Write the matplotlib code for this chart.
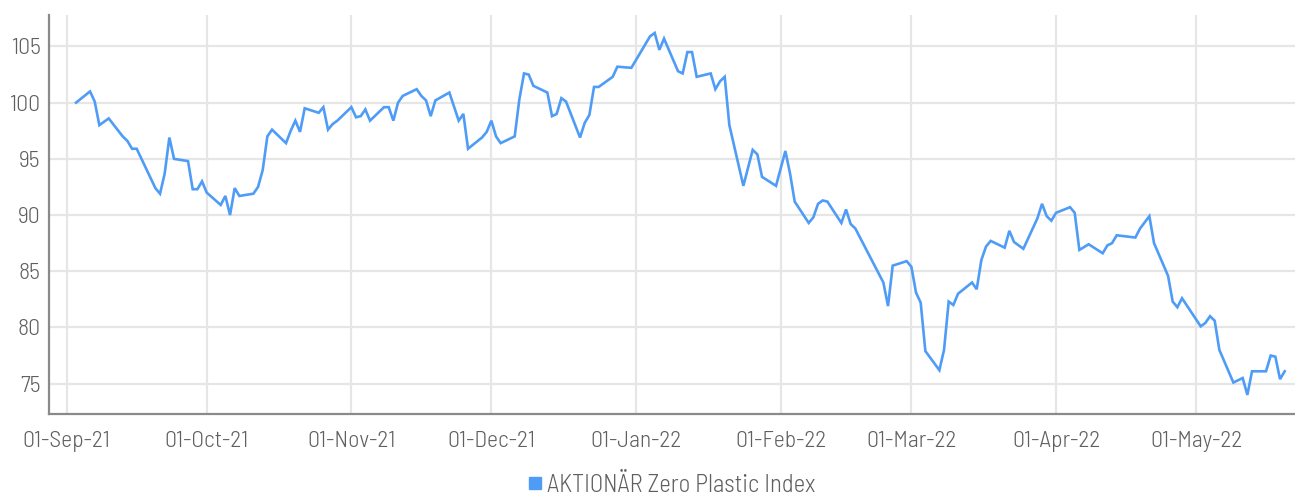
import matplotlib
matplotlib.use("Agg")
import matplotlib.pyplot as plt
import matplotlib.dates as mdates
from matplotlib import font_manager as fm
from matplotlib.lines import Line2D
import pandas as pd

# ---- data ----
dates = [
    "2021-09-03", "2021-09-06", "2021-09-07", "2021-09-08", "2021-09-10", "2021-09-13",
    "2021-09-14", "2021-09-15", "2021-09-16", "2021-09-20", "2021-09-21", "2021-09-22",
    "2021-09-23", "2021-09-24", "2021-09-27", "2021-09-28", "2021-09-29", "2021-09-30",
    "2021-10-01", "2021-10-04", "2021-10-05", "2021-10-06", "2021-10-07", "2021-10-08",
    "2021-10-11", "2021-10-12", "2021-10-13", "2021-10-14", "2021-10-15", "2021-10-18",
    "2021-10-19", "2021-10-20", "2021-10-21", "2021-10-22", "2021-10-25", "2021-10-26",
    "2021-10-27", "2021-10-28", "2021-10-29", "2021-11-01", "2021-11-02", "2021-11-03",
    "2021-11-04", "2021-11-05", "2021-11-08", "2021-11-09", "2021-11-10", "2021-11-11",
    "2021-11-12", "2021-11-15", "2021-11-16", "2021-11-17", "2021-11-18", "2021-11-19",
    "2021-11-22", "2021-11-24", "2021-11-25", "2021-11-26", "2021-11-29", "2021-11-30",
    "2021-12-01", "2021-12-02", "2021-12-03", "2021-12-06", "2021-12-07", "2021-12-08",
    "2021-12-09", "2021-12-10", "2021-12-13", "2021-12-14", "2021-12-15", "2021-12-16",
    "2021-12-17", "2021-12-20", "2021-12-21", "2021-12-22", "2021-12-23", "2021-12-24",
    "2021-12-27", "2021-12-28", "2021-12-31", "2022-01-03", "2022-01-04", "2022-01-05",
    "2022-01-06", "2022-01-07", "2022-01-10", "2022-01-11", "2022-01-12", "2022-01-13",
    "2022-01-14", "2022-01-17", "2022-01-18", "2022-01-19", "2022-01-20", "2022-01-21",
    "2022-01-24", "2022-01-26", "2022-01-27", "2022-01-28", "2022-01-31", "2022-02-02",
    "2022-02-03", "2022-02-04", "2022-02-07", "2022-02-08", "2022-02-09", "2022-02-10",
    "2022-02-11", "2022-02-14", "2022-02-15", "2022-02-16", "2022-02-17", "2022-02-23",
    "2022-02-24", "2022-02-25", "2022-02-28", "2022-03-01", "2022-03-02", "2022-03-03",
    "2022-03-04", "2022-03-07", "2022-03-08", "2022-03-09", "2022-03-10", "2022-03-11",
    "2022-03-14", "2022-03-15", "2022-03-16", "2022-03-17", "2022-03-18", "2022-03-21",
    "2022-03-22", "2022-03-23", "2022-03-25", "2022-03-28", "2022-03-29", "2022-03-30",
    "2022-03-31", "2022-04-01", "2022-04-04", "2022-04-05", "2022-04-06", "2022-04-08",
    "2022-04-11", "2022-04-12", "2022-04-13", "2022-04-14", "2022-04-18", "2022-04-19",
    "2022-04-21", "2022-04-22", "2022-04-25", "2022-04-26", "2022-04-27", "2022-04-28",
    "2022-05-02", "2022-05-03", "2022-05-04", "2022-05-05", "2022-05-06", "2022-05-09",
    "2022-05-11", "2022-05-12", "2022-05-13", "2022-05-16", "2022-05-17", "2022-05-18",
    "2022-05-19", "2022-05-20",
]
index_values = [
    100.0, 101.0, 100.1, 98.0, 98.6, 97.0,
    96.6, 95.9, 95.9, 92.4, 91.9, 93.7,
    96.9, 95.0, 94.8, 92.3, 92.3, 93.0,
    92.0, 90.9, 91.7, 90.0, 92.4, 91.7,
    91.9, 92.5, 94.0, 97.0, 97.6, 96.4,
    97.5, 98.4, 97.4, 99.5, 99.1, 99.6,
    97.6, 98.1, 98.4, 99.6, 98.7, 98.8,
    99.4, 98.4, 99.6, 99.6, 98.4, 100.0,
    100.6, 101.2, 100.6, 100.2, 98.8, 100.2,
    100.9, 98.4, 99.0, 95.9, 96.9, 97.4,
    98.4, 97.0, 96.4, 97.0, 100.3, 102.6,
    102.5, 101.5, 100.9, 98.8, 99.0, 100.4,
    100.1, 96.9, 98.2, 98.9, 101.4, 101.4,
    102.3, 103.2, 103.1, 105.2, 105.9, 106.2,
    104.7, 105.7, 102.8, 102.6, 104.5, 104.5,
    102.3, 102.6, 101.2, 101.9, 102.3, 98.0,
    92.6, 95.8, 95.4, 93.4, 92.6, 95.7,
    93.7, 91.2, 89.3, 89.8, 91.0, 91.3,
    91.2, 89.3, 90.5, 89.2, 88.8, 84.0,
    81.9, 85.5, 85.9, 85.4, 83.1, 82.2,
    77.9, 76.2, 78.0, 82.3, 82.0, 83.0,
    84.0, 83.4, 86.0, 87.2, 87.7, 87.1,
    88.6, 87.6, 87.0, 89.7, 91.0, 89.9,
    89.5, 90.2, 90.7, 90.2, 86.9, 87.4,
    86.6, 87.3, 87.5, 88.2, 88.0, 88.8,
    89.9, 87.5, 84.6, 82.3, 81.8, 82.6,
    80.1, 80.4, 81.0, 80.6, 78.0, 75.1,
    75.5, 74.0, 76.1, 76.1, 77.5, 77.4,
    75.4, 76.1,
]
series_name = "AKTIONÄR Zero Plastic Index"
y_ticks = [75, 80, 85, 90, 95, 100, 105]

# ---- style ----
text_color = "#5f5f5f"
line_color = "#4f9cf7"
grid_color = "#e6e6e6"
spine_color = "#8a8a8a"

# pick the narrowest available family resembling the reference's condensed face
available = {f.name for f in fm.fontManager.ttflist}
condensed_dejavu = any(f.name == "DejaVu Sans" and f.stretch in ("condensed", "semi-condensed")
                       for f in fm.fontManager.ttflist)
candidates = ["Barlow Semi Condensed", "Barlow", "Roboto Condensed", "Liberation Sans Narrow",
              "Open Sans Condensed", "DejaVu Sans Condensed", "Roboto"]
chosen = None
for c in candidates:
    if c in available:
        chosen = c
        break
stretch = "normal"
font_size = 17.0
legend_size = 17.8
if chosen is None:
    chosen = "DejaVu Sans"
    if condensed_dejavu:
        stretch = "condensed"
if chosen == "Roboto":
    font_size = 16.5
    legend_size = 16.5
plt.rcParams["font.family"] = [chosen, "DejaVu Sans"]
plt.rcParams["font.stretch"] = stretch
light_weights = {f.weight for f in fm.fontManager.ttflist if f.name == chosen}
plt.rcParams["font.weight"] = 300 if any(w in (300, "light") for w in light_weights) else "normal"

x = pd.to_datetime(dates)

fig = plt.figure(figsize=(12.95, 4.95), dpi=100)
ax = fig.add_axes([49 / 1295, 1 - 414 / 495, 1 - 49 / 1295, (414 - 15) / 495])

ax.plot(x, index_values, color=line_color, linewidth=1.9, solid_joinstyle="miter", zorder=3)

ax.set_xlim(pd.Timestamp("2021-08-28 05:00"), pd.Timestamp("2022-05-22 05:00"))
ax.set_ylim(72.3, 107.8)
ax.set_yticks(y_ticks)
ax.xaxis.set_major_locator(mdates.MonthLocator(bymonthday=1))
ax.xaxis.set_major_formatter(mdates.DateFormatter("%d-%b-%y"))

ax.grid(True, color=grid_color, linewidth=1.6, zorder=0)
ax.set_axisbelow(True)
for s in ("top", "right"):
    ax.spines[s].set_visible(False)
for s in ("left", "bottom"):
    ax.spines[s].set_color(spine_color)
    ax.spines[s].set_linewidth(1.6)
ax.tick_params(axis="both", length=0, labelsize=font_size, labelcolor=text_color)
ax.tick_params(axis="y", pad=6)
ax.tick_params(axis="x", pad=12)

handle = Line2D([], [], marker="s", linestyle="none", markersize=8,
                markerfacecolor=line_color, markeredgecolor=line_color)
leg = fig.legend([handle], [series_name], loc="center",
                 bbox_to_anchor=(670 / 1295, 1 - 485 / 495), frameon=False,
                 fontsize=legend_size, handletextpad=0.1, handlelength=0.8,
                 borderpad=0, borderaxespad=0)
for t in leg.get_texts():
    t.set_color(text_color)

fig.savefig("out.png", dpi=100)
